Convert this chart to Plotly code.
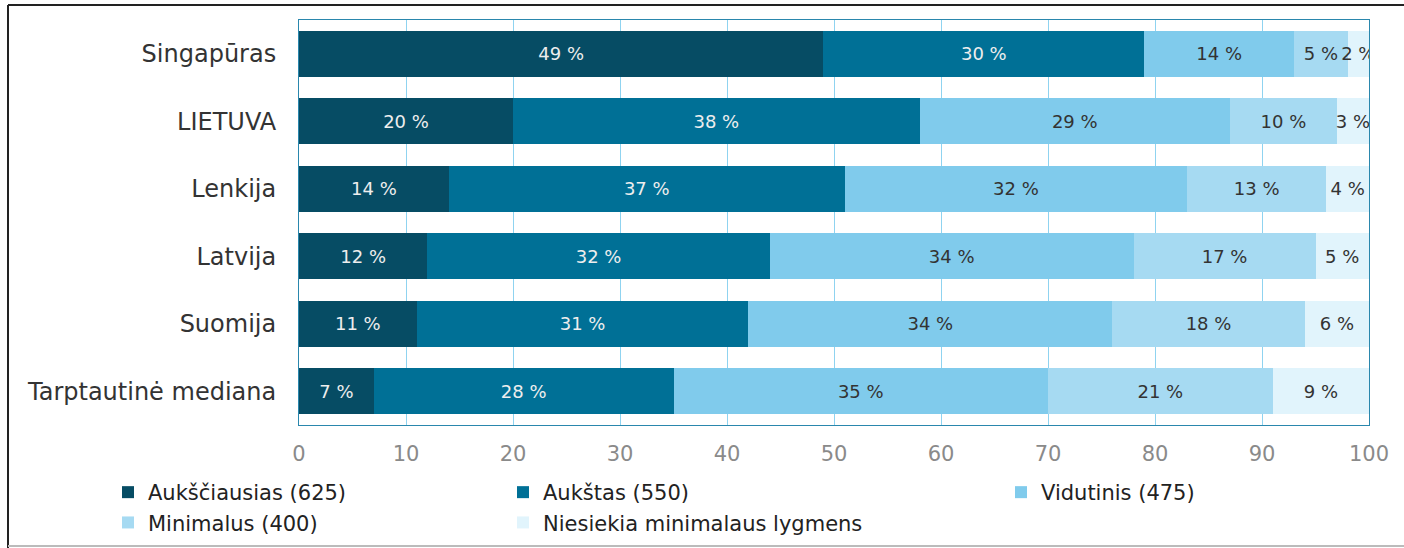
import plotly.graph_objects as go

categories = ["Singapūras", "LIETUVA", "Lenkija", "Latvija", "Suomija", "Tarptautinė mediana"]
series_names = ["Aukščiausias (625)", "Aukštas (550)", "Vidutinis (475)",
                "Minimalus (400)", "Niesiekia minimalaus lygmens"]
auksciausias = [49, 20, 14, 12, 11, 7]
aukstas = [30, 38, 37, 32, 31, 28]
vidutinis = [14, 29, 32, 34, 34, 35]
minimalus = [5, 10, 13, 17, 18, 21]
niesiekia = [2, 3, 4, 5, 6, 9]
x_ticks = [0, 10, 20, 30, 40, 50, 60, 70, 80, 90, 100]

series_values = [auksciausias, aukstas, vidutinis, minimalus, niesiekia]
colors = ["#064C64", "#007096", "#80CBEC", "#A6DAF2", "#E1F4FC"]
text_colors = ["#EEEEEE", "#EEEEEE", "#333333", "#333333", "#333333"]
legend_ids = ["legend", "legend2", "legend3", "legend", "legend2"]

FONT = "DejaVu Sans"

W, H = 1404, 548
L, R, T, B = 299, 35, 20, 123
PW, PH = W - L - R, H - T - B


def px(p):
    return (p - L) / PW


def py(q):
    return (H - B - q) / PH


fig = go.Figure()
for i, (name, vals) in enumerate(zip(series_names, series_values)):
    fig.add_trace(go.Bar(
        y=categories, x=vals, name=name, orientation="h",
        marker=dict(color=colors[i], line=dict(width=0)),
        text=[f"{v} %" for v in vals],
        textposition="inside", insidetextanchor="middle", textangle=0,
        constraintext="none",
        textfont=dict(family=FONT, size=18, color=text_colors[i]),
        legend=legend_ids[i], legendgroup=f"g{i}",
        hoverinfo="skip",
    ))

legend_common = dict(
    orientation="v", yanchor="top", xanchor="left",
    font=dict(family=FONT, size=21, color="#222222"),
    bgcolor="rgba(0,0,0,0)", tracegroupgap=0, itemwidth=30,
)

fig.update_layout(
    width=W, height=H,
    margin=dict(l=L, r=R, t=T, b=B, autoexpand=False),
    barmode="stack", bargap=0.32,
    plot_bgcolor="white", paper_bgcolor="white",
    uniformtext=dict(minsize=18, mode="show"),
    xaxis=dict(
        range=[0, 100], tickvals=x_ticks, ticktext=[str(t) for t in x_ticks],
        showgrid=True, gridcolor="#8FD3F0", gridwidth=1,
        zeroline=False, showline=True, linecolor="#2A87AD", linewidth=1, mirror=True,
        tickfont=dict(family=FONT, size=21, color="#8A8A8A"),
        ticks="", ticklabelstandoff=10, fixedrange=True,
    ),
    yaxis=dict(
        autorange="reversed", showgrid=False, zeroline=False,
        showline=True, linecolor="#2A87AD", linewidth=1, mirror=True,
        tickfont=dict(family=FONT, size=24, color="#333333"),
        ticks="", ticklabelstandoff=17, fixedrange=True,
    ),
    legend=dict(x=px(108), y=py(472), **legend_common),
    legend2=dict(x=px(503), y=py(472), **legend_common),
    legend3=dict(x=px(1001), y=py(472), **legend_common),
    showlegend=True,
)

# outer frame lines
fig.add_shape(type="line", xref="paper", yref="paper",
              x0=px(8), x1=px(1404), y0=py(5), y1=py(5),
              line=dict(color="#222222", width=2))
fig.add_shape(type="line", xref="paper", yref="paper",
              x0=px(8), x1=px(8), y0=py(5), y1=py(548),
              line=dict(color="#222222", width=2))
fig.add_shape(type="line", xref="paper", yref="paper",
              x0=px(8), x1=px(1404), y0=py(546), y1=py(546),
              line=dict(color="#BBBBBB", width=2))

fig.write_html("out.html", config={"displayModeBar": False},
               post_script="document.body.style.margin='0';document.body.style.overflow='hidden';")
